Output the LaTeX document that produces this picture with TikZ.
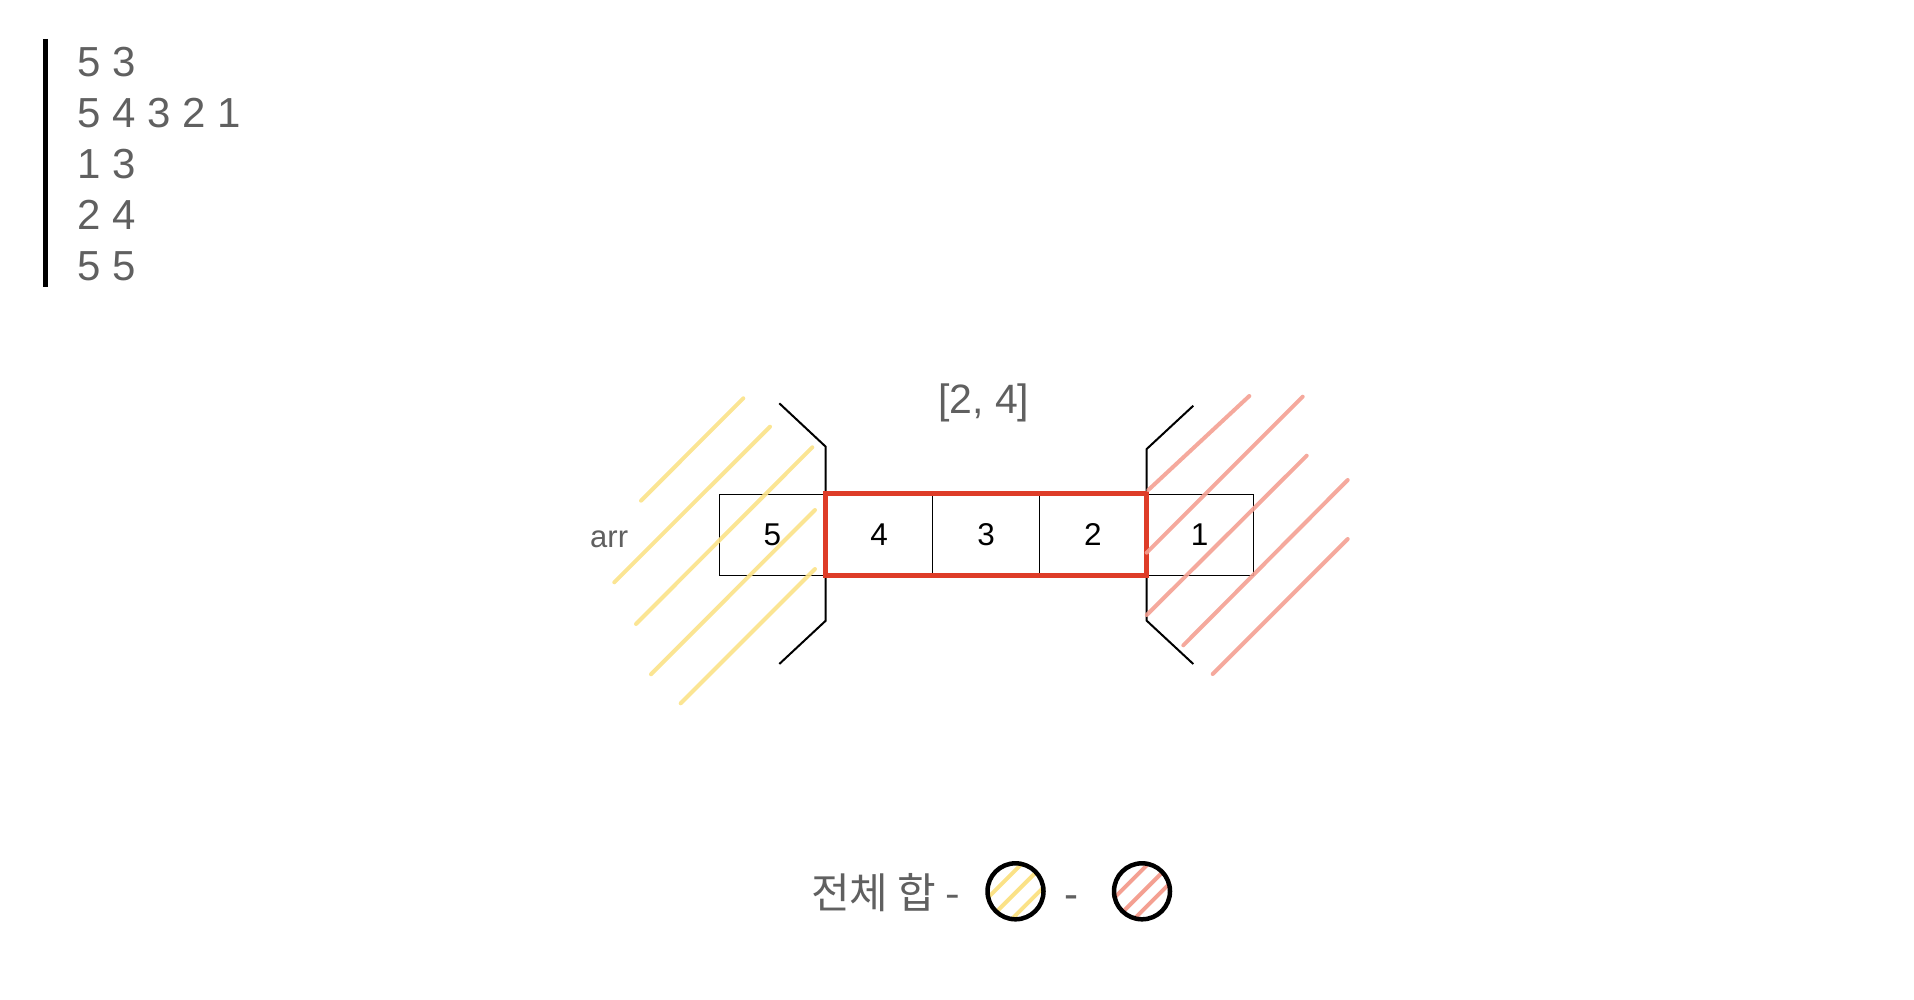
\documentclass[tikz,border=0pt]{standalone}
\usepackage{fontspec}
\setmainfont{Liberation Sans}
\newfontfamily\krfont{Noto Sans CJK KR}
\definecolor{txtgray}{RGB}{96,96,96}
\definecolor{hatchyellow}{RGB}{251,226,135}
\definecolor{hatchred}{RGB}{244,160,146}
\definecolor{redframe}{RGB}{222,60,40}
\begin{document}
\begin{tikzpicture}[x=1pt,y=-1pt,
  cell/.style={draw=black, line width=1pt, minimum width=106.8pt, minimum height=81pt, inner sep=0pt, font=\fontsize{31.5}{36}\selectfont, text=black},
  txt/.style={inner sep=0pt, text=txtgray, font=\fontsize{42}{48}\selectfont},
  smalltxt/.style={inner sep=0pt, text=txtgray, font=\fontsize{31}{36}\selectfont},
  yhatch/.style={draw=hatchyellow, line width=4pt, line cap=round, opacity=0.9},
  rhatch/.style={draw=hatchred, line width=4pt, line cap=round, opacity=0.9},
  bracketline/.style={draw=black, line width=2pt},
  redbox/.style={draw=redframe, line width=4.5pt},
  blob/.style={circle, draw=black, line width=4.5pt, minimum size=56pt, inner sep=0pt}]
\useasboundingbox (0,0) rectangle (1914,1000);

% input block
\draw[line width=5pt] (45,39) -- (45,287);
\node[txt, anchor=base west] (l1) at (77,77) {5 3};
\node[txt, anchor=base west] (l2) at (77,128) {5 4 3 2 1};
\node[txt, anchor=base west] (l3) at (77,179) {1 3};
\node[txt, anchor=base west] (l4) at (77,230) {2 4};
\node[txt, anchor=base west] (l5) at (77,281) {5 5};

% brackets
\draw[bracketline] (779.3,403.3) -- (825.7,446.7) -- (825.7,620.7) -- (779.3,664);
\draw[bracketline] (1193.3,405.7) -- (1146.7,449) -- (1146.7,620.7) -- (1193.3,664);

% cells
\node[cell] (c1) at (772.4,534.5) {5};
\node[cell] (c2) at (879.2,534.5) {4};
\node[cell] (c3) at (986.0,534.5) {3};
\node[cell] (c4) at (1092.8,534.5) {2};
\node[cell] (c5) at (1199.6,534.5) {1};
\draw[redbox] (c2.north west) rectangle (c4.south east);

\node[smalltxt, anchor=base west] (arr) at (590,547) {arr};
\node[txt, anchor=base west, font=\fontsize{41}{48}\selectfont] (range) at (938,413) {[2, 4]};

% yellow hatch
\draw[yhatch] (641,500.7) -- (743.3,398.3);
\draw[yhatch] (614.3,582.3) -- (770,426.7);
\draw[yhatch] (636,624) -- (812.3,447.3);
\draw[yhatch] (651,674.3) -- (815,510);
\draw[yhatch] (680.7,703.3) -- (815,569);

% red hatch
\draw[rhatch] (1249.3,396) -- (1148.3,490);
\draw[rhatch] (1302.7,396.7) -- (1146.7,552.7);
\draw[rhatch] (1306.7,455.7) -- (1146.7,615);
\draw[rhatch] (1347.7,480) -- (1183.3,645.3);
\draw[rhatch] (1347.7,539) -- (1212.7,674);

% formula
\node[txt, anchor=base west] (sum) at (811,908) {\krfont 전체 합 -};
\node[txt, anchor=base] (minus) at (1071.5,908) {-};
\begin{scope}
  \clip (1015.5,891.3) circle (30pt);
  \foreach \o in {-15,1,17}
    \draw[yhatch, opacity=1] (1015.5+\o*0.7071-30, 891.3+\o*0.7071+30) -- (1015.5+\o*0.7071+30, 891.3+\o*0.7071-30);
\end{scope}
\begin{scope}
  \clip (1142,891.3) circle (30pt);
  \foreach \o in {-15,1,14}
    \draw[rhatch, opacity=1] (1142+\o*0.7071-30, 891.3+\o*0.7071+30) -- (1142+\o*0.7071+30, 891.3+\o*0.7071-30);
\end{scope}
\node[blob] (ycirc) at (1015.5,891.3) {};
\node[blob] (rcirc) at (1142,891.3) {};
\end{tikzpicture}
\end{document}
